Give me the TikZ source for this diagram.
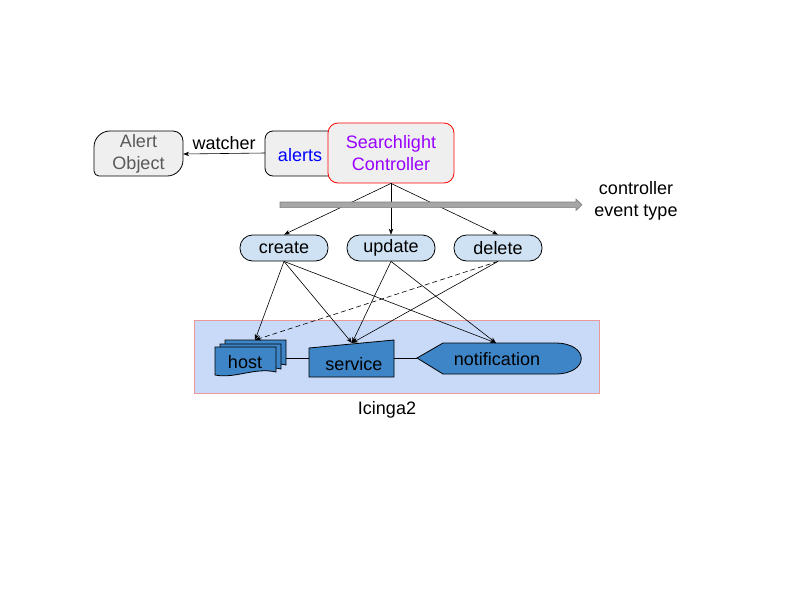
\documentclass[tikz,border=0pt]{standalone}
\usepackage{fontspec}
\setmainfont{Liberation Sans}
\usetikzlibrary{arrows.meta}
\definecolor{boxgray}{HTML}{EFEFEF}
\definecolor{txtgray}{HTML}{595959}
\definecolor{ctrlred}{HTML}{FF0000}
\definecolor{purp}{HTML}{9900FF}
\definecolor{alertblue}{HTML}{0000FF}
\definecolor{evblue}{HTML}{CFE2F3}
\definecolor{icbg}{HTML}{C9DAF8}
\definecolor{icborder}{HTML}{EA9999}
\definecolor{shapeblue}{HTML}{3D85C6}
\definecolor{bargray}{HTML}{A6A6A6}
\definecolor{bardark}{HTML}{7F7F7F}
\begin{document}
\begin{tikzpicture}[x=1pt,y=-1pt,
  font=\fontsize{18}{22}\selectfont,
  box/.style={draw=black, line width=0.8pt, fill=boxgray},
  event/.style={draw=black, line width=0.8pt, fill=evblue, rounded corners=12.5pt,
    minimum width=88pt, minimum height=26pt, inner sep=0pt},
  conn/.style={-{Stealth[length=6pt,width=4.5pt]}, line width=0.6pt},
  ishape/.style={draw=black, fill=shapeblue, line width=0.8pt},
  link/.style={line width=0.8pt},
  lbl/.style={inner sep=0pt, align=center}]
\useasboundingbox (0,0) rectangle (800,600);
% Alert Object
\path[box] (138,176) [rounded corners=5pt] -- (94,176) [rounded corners=16pt] -- (94,131)
  [rounded corners=10pt] -- (183,131) [rounded corners=16pt] -- (183,176) -- cycle;
\node[lbl, text=txtgray, minimum width=89pt, minimum height=45pt] (alertobj) at (138.5,154) {Alert\\Object};
% alerts box
\path[box, rounded corners=8pt] (265,131) rectangle (350,176);
\node[lbl, text=alertblue] (alerts) at (300,155) {alerts};
\coordinate (alertsw) at (265,153);
% Searchlight Controller
\node[draw=ctrlred, line width=0.8pt, fill=boxgray, rounded corners=10pt, minimum width=126pt,
  minimum height=60pt, text=purp, align=center, inner sep=0pt] (sc) at (391,153) {Searchlight\\Controller};
\draw[conn] (alertsw) -- node[lbl, above=4pt, text=black] (watcher) {watcher} (alertobj.east);
% events
\node[event] (create) at (284,248) {create};
\node[event] (update) at (391,248) {update};
\node[event] (delete) at (498,248) {delete};
\draw[conn] (sc.south) -- (create.north);
\draw[conn] (sc.south) -- (update.north);
\draw[conn] (sc.south) -- (delete.north);
% gray bar
\path[draw=bardark, fill=bargray, line width=0.6pt] (280,202) -- (576,202) -- (576,199) -- (582,204.8)
  -- (576,210.5) -- (576,207.6) -- (280,207.6) -- cycle;
\node[lbl] (cet) at (636,201) {controller\\event type};
% Icinga2
\path[fill=icbg, draw=icborder, line width=0.8pt] (194,320) rectangle (599,393);
\node[lbl] (icinga) at (387,410) {Icinga2};
% host (multi document)
\path[ishape] (225,340) -- (286,340) -- (286,365) .. controls (265,360) and (245,372) .. (225,368) -- cycle;
\path[ishape] (220,344) -- (281,344) -- (281,369) .. controls (260,364) and (240,376) .. (220,372) -- cycle;
\path[ishape] (215,347) -- (276,347) -- (276,372) .. controls (255,367) and (235,379) .. (215,375) -- cycle;
\node[lbl] (host) at (245,362) {host};
\coordinate (hosttop) at (255,340);
\coordinate (hostr) at (286,358);
% service
\path[ishape] (309,348) -- (394,340) -- (394,377) -- (309,377) -- cycle;
\node[lbl] (service) at (354,364) {service};
\coordinate (servtop) at (352,343);
\coordinate (servl) at (309,358);
\coordinate (servr) at (394,358);
% notification
\path[ishape] (417,358) -- (443,343) -- (555,343) .. controls (590,343) and (590,374) .. (555,374) -- (443,374) -- cycle;
\node[lbl] (notif) at (497,359) {notification};
\coordinate (notiftop) at (496,343);
\coordinate (notifl) at (417,358);
% links
\draw[link] (hostr) -- (servl);
\draw[link] (servr) -- (notifl);
% arrows from events
\draw[conn] (create.south) -- (hosttop);
\draw[conn] (create.south) -- (servtop);
\draw[conn] (create.south) -- (notiftop);
\draw[conn] (update.south) -- (servtop);
\draw[conn] (update.south) -- (notiftop);
\draw[conn] (delete.south) -- (servtop);
\draw[conn, dash pattern=on 5pt off 3pt] (delete.south) -- (hosttop);
\end{tikzpicture}
\end{document}
